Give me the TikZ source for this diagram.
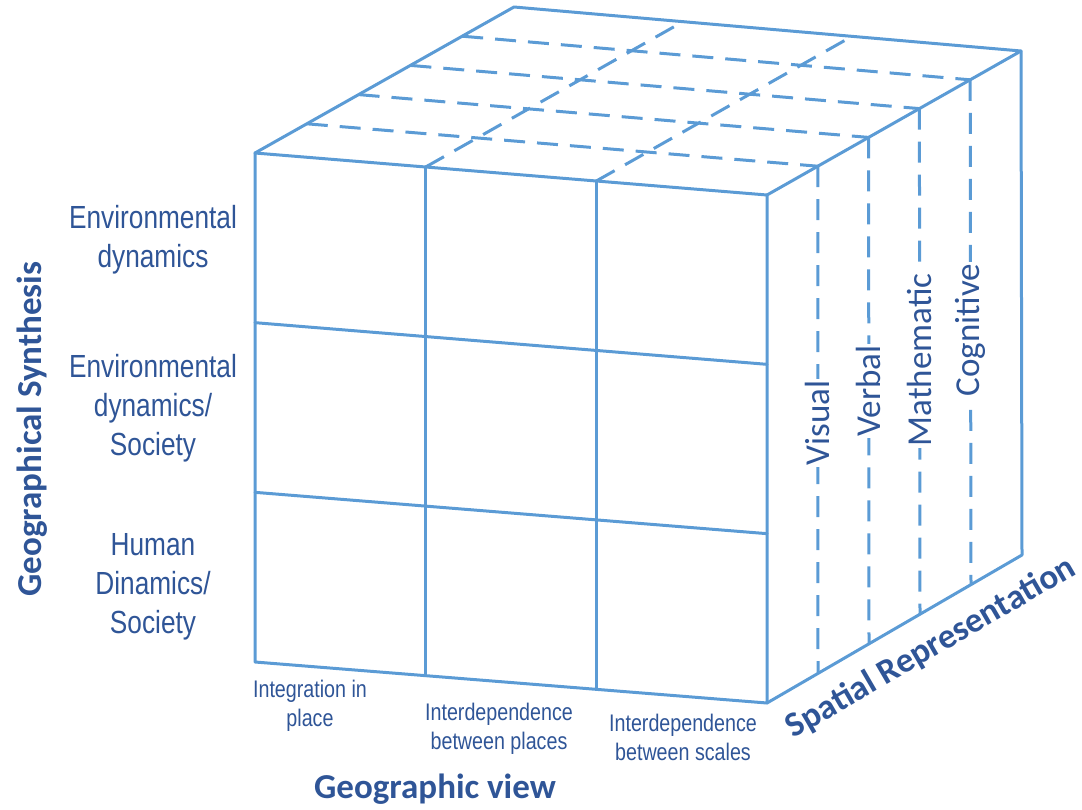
\documentclass[tikz,border=0pt]{standalone}
\usepackage{fontspec}
\setmainfont{Carlito}
\newfontfamily\narrowfont[FakeStretch=0.82]{Liberation Sans}
\usetikzlibrary{calc}
\definecolor{lineblue}{HTML}{5B9BD5}
\definecolor{textblue}{HTML}{2F5597}
\begin{document}
\begin{tikzpicture}[x=1pt,y=-1pt,
  edge/.style={draw=lineblue, line width=3pt, line join=round, line cap=round},
  griddash/.style={draw=lineblue, line width=3pt, dash pattern=on 21pt off 12pt},
  rowlab/.style={text=textblue, font=\narrowfont\fontsize{32}{39}\selectfont, align=center, inner sep=0pt},
  collab/.style={text=textblue, font=\narrowfont\fontsize{24}{29}\selectfont, align=center, inner sep=0pt},
  replab/.style={text=textblue, font=\fontsize{35}{42}\selectfont, rotate=90, fill=white, inner sep=2pt},
  axislab/.style={text=textblue, font=\bfseries\fontsize{35}{42}\selectfont, inner sep=0pt}]
\useasboundingbox (0,0) rectangle (1082,809);
% corners
\coordinate (FTL) at (255,153);
\coordinate (FTR) at (767,195);
\coordinate (FBL) at (255,662);
\coordinate (FBR) at (767,703);
\coordinate (BTL) at (514,7);
\coordinate (BTR) at (1021,51);
\coordinate (BBR) at (1022,555);
% top face dashed grid
\foreach \i in {1,2}
  \draw[griddash] ($(FTL)!\i/3!(FTR)$) -- ($(BTL)!\i/3!(BTR)$);
\foreach \j in {1,2,3,4}
  \draw[griddash] ($(FTL)!\j/5!(BTL)$) -- ($(FTR)!\j/5!(BTR)$);
% right face dashed lines
\foreach \j in {1,2,3,4}
  \draw[griddash] ($(FTR)!\j/5!(BTR)$) -- ($(FBR)!\j/5!(BBR)$);
% front face grid
\foreach \i in {1,2} {
  \draw[edge] ($(FTL)!\i/3!(FTR)$) -- ($(FBL)!\i/3!(FBR)$);
  \draw[edge] ($(FTL)!\i/3!(FBL)$) -- ($(FTR)!\i/3!(FBR)$);
}
% cube outline
\draw[edge] (FTL) -- (FTR) -- (FBR) -- (FBL) -- cycle;
\draw[edge] (FTL) -- (BTL) -- (BTR) -- (FTR);
\draw[edge] (BTR) -- (BBR) -- (FBR);
% right face labels
\node[replab] (visual) at (817.8,423) {Visual};
\node[replab] (verbal) at (868.6,391) {Verbal};
\node[replab] (mathematic) at (919.4,360) {Mathematic};
\node[replab] (cognitive) at (970.2,330) {Cognitive};
% row labels
\node[rowlab] (row1) at (153,240) {Environmental\\dynamics};
\node[rowlab] (row2) at (153,408) {Environmental\\dynamics/\\Society};
\node[rowlab] (row3) at (153,587) {Human\\Dinamics/\\Society};
% column labels
\node[collab] (col1) at (310,706) {Integration in\\place};
\node[collab] (col2) at (499,729) {Interdependence\\between places};
\node[collab] (col3) at (683,737) {Interdependence\\between scales};
% axis titles
\node[axislab, rotate=90] (synth) at (32,429) {Geographical Synthesis};
\node[axislab] (view) at (435,789) {Geographic view};
\node[axislab, rotate=30.2] (spatial) at (931,648) {Spatial Representation};
\end{tikzpicture}
\end{document}
